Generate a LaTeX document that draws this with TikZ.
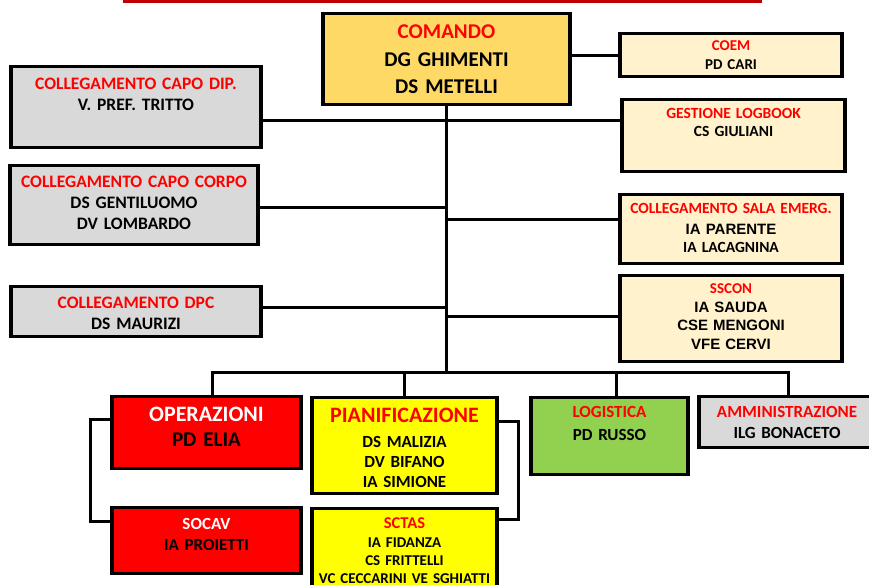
\documentclass[tikz,border=0pt]{standalone}
\usepackage{fontspec}
\setmainfont{Carlito}
\newfontfamily\arialfont{Liberation Sans}
\usepackage{xcolor}
\definecolor{comandofill}{HTML}{FFD966}
\definecolor{stafffill}{HTML}{FFF2CC}
\definecolor{liaisonfill}{HTML}{D9D9D9}
\definecolor{opsfill}{HTML}{FF0000}
\definecolor{planfill}{HTML}{FFFF00}
\definecolor{logfill}{HTML}{92D050}
\definecolor{titlered}{HTML}{FF0000}
\definecolor{bannerred}{HTML}{C00000}
\frenchspacing
\tikzset{
	unitbox/.style    = {shape=rectangle, draw=black, line width=3.4pt,
		anchor=north, align=center, inner xsep=0pt, inner ysep=0pt},
	comandobox/.style = {unitbox, fill=comandofill},
	staffbox/.style   = {unitbox, fill=stafffill},
	liaisonbox/.style = {unitbox, fill=liaisonfill},
	opsbox/.style     = {unitbox, fill=opsfill},
	planbox/.style    = {unitbox, fill=planfill},
	logbox/.style     = {unitbox, fill=logfill},
	link/.style       = {draw, line width=3pt},
	banner/.style     = {draw=bannerred, line width=3pt}
}
\begin{document}
\begin{tikzpicture}
[
x = 1pt, y = -1pt,
every node/.style = {text=black}
]
\useasboundingbox (0,0) rectangle (869,584);
\clip (0,0) rectangle (869,584);
\draw[banner] (123,1.5) -- (762,1.5);
\node[comandobox, text width=247pt, text height=24.8pt, text depth=66.2pt,
	font=\bfseries\fontsize{21}{27.5}\selectfont] (comando) at (446.5,12)
	{\textcolor{titlered}{COMANDO}\\ DG GHIMENTI\\ DS METELLI};
\node[staffbox, text width=222pt, text height=16.8pt, text depth=26.2pt,
	font=\bfseries\fontsize{15}{19}\selectfont] (coem) at (731,32)
	{\textcolor{titlered}{COEM}\\ PD CARI};
\node[liaisonbox, text width=250pt, text height=22.6pt, text depth=58.4pt,
	font=\bfseries\fontsize{17.5}{21}\selectfont] (capodip) at (136,65)
	{\textcolor{titlered}{COLLEGAMENTO CAPO DIP.}\\ V. PREF. TRITTO};
\node[staffbox, text width=223pt, text height=19pt, text depth=53pt,
	font=\bfseries\fontsize{15.5}{18}\selectfont] (gestione) at (733.5,98)
	{\textcolor{titlered}{GESTIONE LOGBOOK}\\ CS GIULIANI};
\node[liaisonbox, text width=248pt, text height=21.6pt, text depth=57.4pt,
	font=\bfseries\fontsize{17.5}{21}\selectfont] (capocorpo) at (134,164)
	{\textcolor{titlered}{COLLEGAMENTO CAPO CORPO}\\ DS GENTILUOMO\\ DV LOMBARDO};
\node[staffbox, text width=222pt, text height=19pt, text depth=50pt,
	font=\bfseries\fontsize{15.5}{18}\selectfont] (sala) at (731,193)
	{\textcolor{titlered}{COLLEGAMENTO SALA EMERG.}\\[3pt]
	{\arialfont\fontsize{15}{18}\selectfont IA PARENTE}\\ IA LACAGNINA};
\node[liaisonbox, text width=250pt, text height=21.6pt, text depth=28.4pt,
	font=\bfseries\fontsize{17.5}{21}\selectfont] (dpc) at (136,285)
	{\textcolor{titlered}{COLLEGAMENTO DPC}\\ DS MAURIZI};
\node[staffbox, text width=222pt, text height=17.8pt, text depth=68.2pt,
	font=\bfseries\arialfont\fontsize{15}{18.7}\selectfont] (sscon) at (731,274)
	{{\normalfont\bfseries\fontsize{15}{18.7}\selectfont\textcolor{titlered}{SSCON}}\\
	IA SAUDA\\ CSE MENGONI\\ VFE CERVI};
\node[opsbox, text width=189pt, text height=25.1pt, text depth=46.9pt,
	font=\bfseries\fontsize{21}{25}\selectfont] (operazioni) at (206.5,395)
	{{\fontsize{22}{25}\selectfont\textcolor{white}{OPERAZIONI}}\\ PD ELIA};
\node[planbox, text width=185pt, text height=25.1pt, text depth=70.9pt,
	font=\bfseries\fontsize{17}{20}\selectfont] (pianif) at (404.5,396)
	{{\fontsize{22}{20}\selectfont\textcolor{titlered}{PIANIFICAZIONE}}\\[5pt]
	DS MALIZIA\\ DV BIFANO\\ IA SIMIONE};
\node[opsbox, text width=189pt, text height=21.5pt, text depth=44.5pt,
	font=\bfseries\fontsize{17}{21}\selectfont] (socav) at (206.5,506)
	{\textcolor{white}{SOCAV}\\ IA PROIETTI};
\node[planbox, text width=185pt, text height=20.2pt, text depth=72.8pt,
	font=\bfseries\fontsize{15}{18.3}\selectfont] (sctas) at (404.5,507)
	{{\fontsize{16.5}{18.3}\selectfont\textcolor{titlered}{SCTAS}}\\
	IA FIDANZA\\ CS FRITTELLI\\ VC CECCARINI VE SGHIATTI};
\node[logbox, text width=157pt, text height=19.5pt, text depth=57.5pt,
	font=\bfseries\fontsize{17}{23}\selectfont] (logistica) at (609.5,396)
	{\textcolor{titlered}{LOGISTICA}\\ PD RUSSO};
\node[liaisonbox, text width=176pt, text height=20.5pt, text depth=30.5pt,
	font=\bfseries\fontsize{17}{21}\selectfont] (ammin) at (787,395)
	{\textcolor{titlered}{AMMINISTRAZIONE}\\ ILG BONACETO};
\coordinate (hub) at (446.5,372);
\coordinate (jdip) at (446.5,120);
\coordinate (jcorpo) at (446.5,207);
\coordinate (jsala) at (446.5,219);
\coordinate (jdpc) at (446.5,307);
\coordinate (jsscon) at (446.5,316);
\coordinate (bops) at (212,372);
\coordinate (bplan) at (404.5,372);
\coordinate (blog) at (616,372);
\coordinate (badm) at (788,372);
\coordinate (lbr) at (90,450);
\coordinate (rbr) at (518,450);
\draw[link] (comando.south) -- (hub);
\draw[link] (coem.west) -- (coem.west -| comando.east);
\draw[link] (capodip.east |- jdip) -- (gestione.west |- jdip);
\draw[link] (capocorpo.east |- jcorpo) -- (jcorpo);
\draw[link] (jsala) -- (sala.west |- jsala);
\draw[link] (dpc.east |- jdpc) -- (jdpc);
\draw[link] (jsscon) -- (sscon.west |- jsscon);
\draw[link] (bops |- operazioni.north) -- (bops) -- (badm) -- (badm |- ammin.north);
\draw[link] (bplan) -- (pianif.north);
\draw[link] (blog) -- (blog |- logistica.north);
\draw[link] ([yshift=-24pt]operazioni.north west) -- ([yshift=-24pt]operazioni.north west -| lbr)
	-- ([yshift=-15pt]socav.north west -| lbr) -- ([yshift=-15pt]socav.north west);
\draw[link] ([yshift=-25pt]pianif.north east) -- ([yshift=-25pt]pianif.north east -| rbr)
	-- ([yshift=-12pt]sctas.north east -| rbr) -- ([yshift=-12pt]sctas.north east);
\end{tikzpicture}
\end{document}
